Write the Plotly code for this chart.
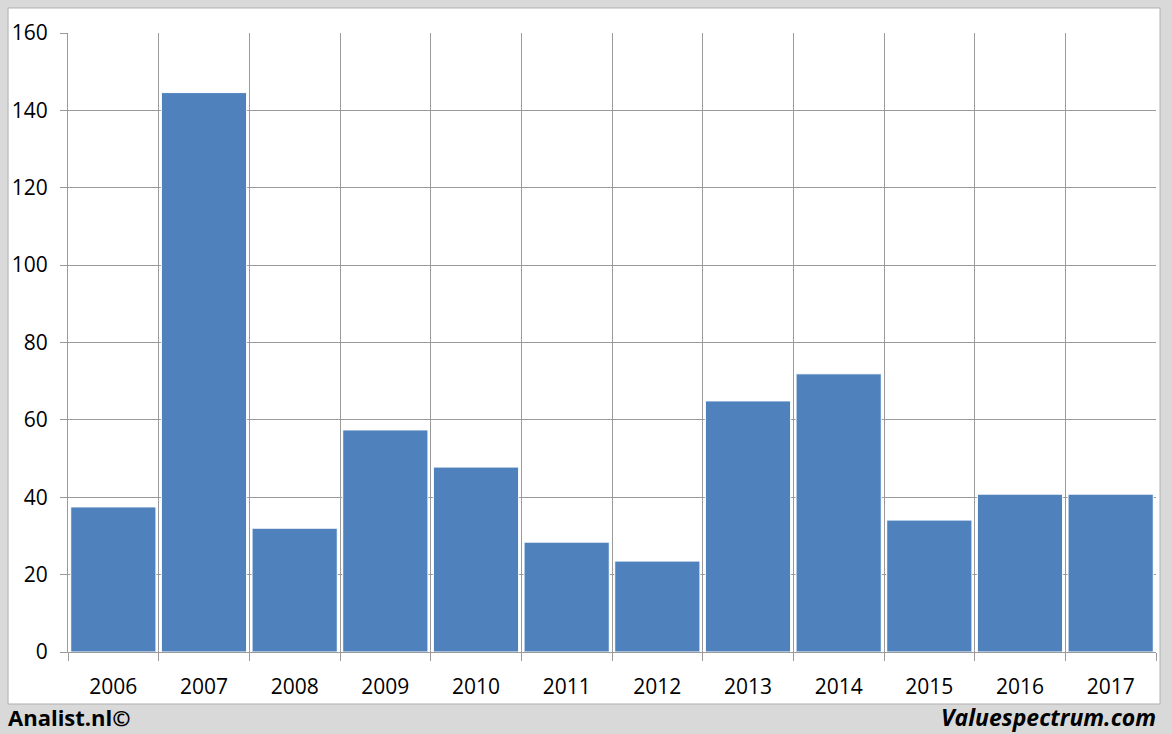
import plotly.graph_objects as go

years = ["2006", "2007", "2008", "2009", "2010", "2011", "2012", "2013", "2014", "2015", "2016", "2017"]
values = [37.5, 144.6, 32.0, 57.4, 47.8, 28.4, 23.5, 64.9, 71.9, 34.1, 40.8, 40.8]
y_ticks = [0, 20, 40, 60, 80, 100, 120, 140, 160]

pos = list(range(len(years)))
bounds = [p - 0.5 for p in pos] + [pos[-1] + 0.5]

grid = "#9a9a9a"
fig = go.Figure()
fig.add_trace(go.Bar(x=pos, y=values, marker=dict(color="#4F81BD", line=dict(color="white", width=1)),
                     width=0.94, hoverinfo="skip"))
# invisible trace to anchor xaxis2 (boundary gridlines)
fig.add_trace(go.Scatter(x=[bounds[0], bounds[-1]], y=[0, 0], xaxis="x2", mode="lines",
                         line=dict(width=0), showlegend=False, hoverinfo="skip"))

fig.update_layout(
    width=1172, height=734,
    margin=dict(l=68, r=16, t=33, b=82),
    paper_bgcolor="#d9d9d9",
    plot_bgcolor="white",
    showlegend=False,
    font=dict(family="Open Sans, Liberation Sans, sans-serif", size=20, color="black"),
    xaxis=dict(range=[bounds[0], bounds[-1]], tickvals=pos, ticktext=years, showgrid=False,
               ticks="", showline=True, linecolor=grid, linewidth=1, zeroline=False,
               tickfont=dict(size=21), ticklabelstandoff=16),
    xaxis2=dict(range=[bounds[0], bounds[-1]], overlaying="x", side="bottom", tickvals=bounds,
                showticklabels=False, showgrid=True, gridcolor=grid, gridwidth=1,
                ticks="outside", ticklen=8, tickcolor=grid, zeroline=False, layer="below traces"),
    yaxis=dict(range=[0, 160], tickvals=y_ticks, showgrid=True, gridcolor=grid, gridwidth=1,
               ticks="outside", ticklen=7, tickcolor=grid, showline=True, linecolor=grid,
               zeroline=False, tickfont=dict(size=21), ticklabelstandoff=8),
    shapes=[dict(type="rect", xref="paper", yref="paper", x0=-0.0551, x1=1.0037, y0=-0.084, y1=1.0404,
                 fillcolor="white", line=dict(color="#b0b0b0", width=1), layer="below")],
    annotations=[
        dict(text="<b>Analist.nl©</b>", xref="paper", yref="paper", x=-0.0570, y=-0.105,
             xanchor="left", yanchor="middle", showarrow=False, font=dict(size=22)),
        dict(text="<b><i>Valuespectrum.com</i></b>", xref="paper", yref="paper", x=1.0018, y=-0.105,
             xanchor="right", yanchor="middle", showarrow=False, font=dict(size=23)),
    ],
)
fig.write_html("out.html", config={"displayModeBar": False},
               post_script="document.body.style.margin='0';document.body.style.overflow='hidden';")
